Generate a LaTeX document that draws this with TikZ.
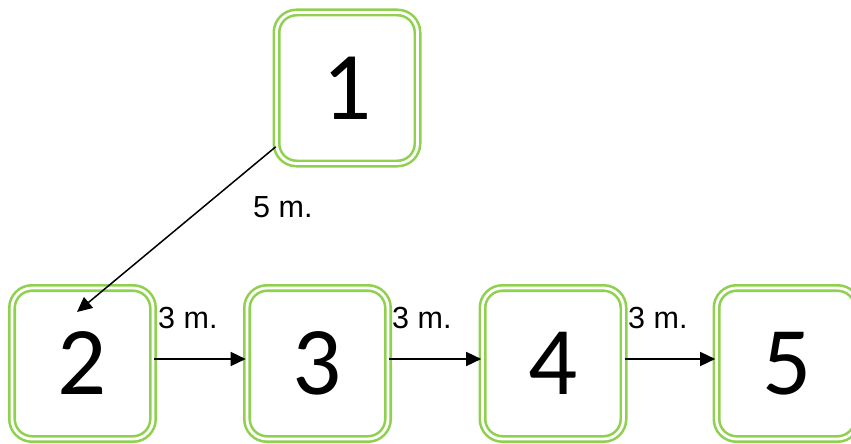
\documentclass[tikz,border=0pt]{standalone}
\usepackage{fontspec}
\setmainfont{Carlito}
\newfontfamily\arialf{Liberation Sans}
\usetikzlibrary{arrows.meta}
\definecolor{boxgreen}{HTML}{8FD14F}
\tikzset{
  stepbox/.style={draw=boxgreen, double=white, line width=2.6pt, double distance=2.8pt,
    rounded corners=20pt, minimum width=141pt, minimum height=151pt, inner sep=0pt,
    font=\fontsize{97pt}{97pt}\selectfont},
  conn/.style={draw=black, line width=1.5pt, -{Triangle[length=15pt,width=14pt]}},
  lbl/.style={font=\arialf\fontsize{30.5pt}{30.5pt}\selectfont, inner sep=0pt, anchor=west}
}
\begin{document}
\begin{tikzpicture}[x=1pt,y=-1pt]
\useasboundingbox (0,0) rectangle (851,444);
\node[stepbox] (b1) at (347,88) {1};
\node[stepbox] (b2) at (82.5,363.5) {2};
\node[stepbox] (b3) at (317.5,363.5) {3};
\node[stepbox] (b4) at (553,363.5) {4};
\node[stepbox] (b5) at (787,363.5) {5};
\coordinate (s1) at ([xshift=0.5pt,yshift=18pt]b1.south west);
\coordinate (e2) at ([xshift=-5.5pt,yshift=51.5pt]b2.center);
\draw[conn] (s1) -- (e2);
\draw[conn] ([yshift=4.5pt]b2.east) -- ([yshift=4.5pt]b3.west);
\draw[conn] ([yshift=4.5pt]b3.east) -- ([yshift=4.5pt]b4.west);
\draw[conn] ([yshift=4.5pt]b4.east) -- ([yshift=4.5pt]b5.west);
\node[lbl] (l1) at (253,207) {5 m.};
\node[lbl] (l2) at (158,318) {3 m.};
\node[lbl] (l3) at (392,318) {3 m.};
\node[lbl] (l4) at (628,318) {3 m.};
\end{tikzpicture}
\end{document}
